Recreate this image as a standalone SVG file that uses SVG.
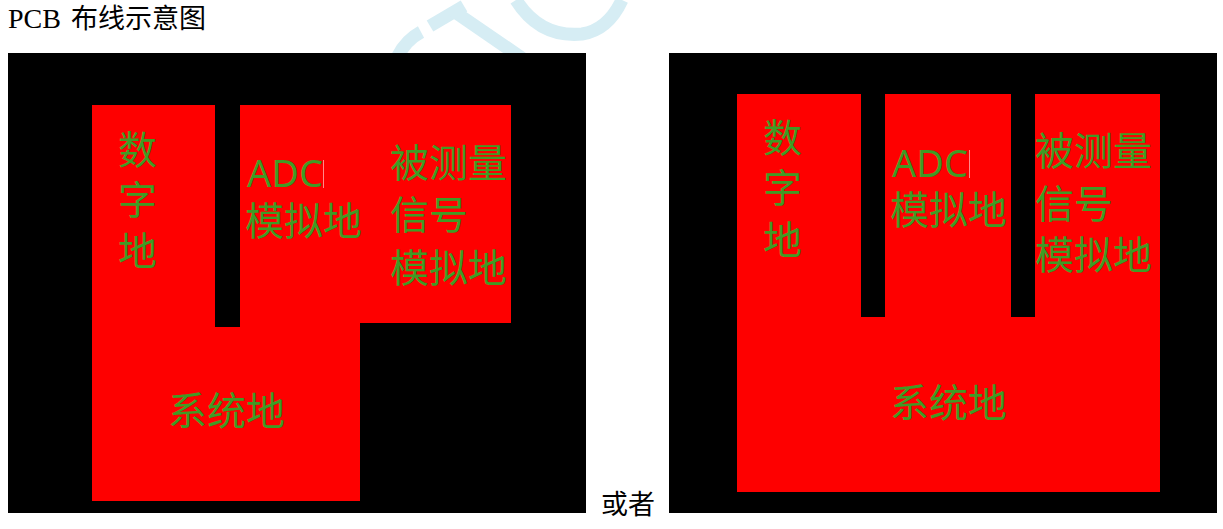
<svg xmlns="http://www.w3.org/2000/svg" width="1223" height="529" viewBox="0 0 1223 529">
  <style>
    .board { fill: #000000; }
    .plane { fill: #fe0000; }
    .lbl { font-family: "Noto Sans CJK SC", "Noto Sans", sans-serif; font-size: 39px; fill: #3f9b25; }
    .lat { font-family: "Noto Sans", "Open Sans", sans-serif; font-size: 38px; }
    .cap { font-family: "Liberation Serif", "Noto Sans CJK SC", serif; font-size: 27px; fill: #000000; }
    .wm { fill: none; stroke: #d6edf4; stroke-width: 13; stroke-linecap: butt; }
    .cursor { stroke: #ff8a8a; stroke-width: 1; }
  </style>

  <rect x="0" y="0" width="1223" height="529" fill="#ffffff"/>

  <!-- watermark fragments -->
  <g id="watermark">
    <path class="wm" d="M398 56 Q406 40 421 32"/>
    <path class="wm" d="M430 26 L464 6"/>
    <path class="wm" d="M452 10 L522 58"/>
    <path class="wm" d="M516 0 Q540 38 582 34 Q608 30 622 0"/>
  </g>

  <text class="cap" x="8" y="28"><tspan font-size="28">PCB</tspan><tspan x="71">布线示意图</tspan></text>

  <!-- left layout -->
  <g id="layout-a">
    <rect class="board" x="8" y="53" width="578" height="460"/>
    <path class="plane" d="M92 105 H215 V327 H240 V105 H511 V323 H360 V501 H92 Z"/>
    <g id="a-digital">
      <text class="lbl" x="118" y="164">数<tspan x="118" y="214">字</tspan><tspan x="118" y="265">地</tspan></text>
    </g>
    <g id="a-adc">
      <text class="lbl" x="247" y="187"><tspan class="lat">ADC</tspan><tspan x="245" y="235">模拟地</tspan></text>
      <line class="cursor" x1="323.5" y1="160" x2="323.5" y2="188"/>
    </g>
    <g id="a-signal">
      <text class="lbl" x="390" y="177">被测量<tspan x="390" y="229">信号</tspan><tspan x="390" y="282">模拟地</tspan></text>
    </g>
    <g id="a-system">
      <text class="lbl" x="168" y="425">系统地</text>
    </g>
  </g>

  <text class="cap" x="601" y="514">或者</text>

  <!-- right layout -->
  <g id="layout-b">
    <rect class="board" x="669" y="53" width="548" height="460"/>
    <path class="plane" d="M737 94 H861 V317 H885 V94 H1011 V317 H1035 V94 H1160 V492 H737 Z"/>
    <g id="b-digital">
      <text class="lbl" x="763" y="152">数<tspan x="763" y="202">字</tspan><tspan x="763" y="254">地</tspan></text>
    </g>
    <g id="b-adc">
      <text class="lbl" x="892" y="177"><tspan class="lat">ADC</tspan><tspan x="890" y="224">模拟地</tspan></text>
      <line class="cursor" x1="969.5" y1="150" x2="969.5" y2="178"/>
    </g>
    <g id="b-signal">
      <text class="lbl" x="1035" y="165">被测量<tspan x="1035" y="218">信号</tspan><tspan x="1035" y="269">模拟地</tspan></text>
    </g>
    <g id="b-system">
      <text class="lbl" x="890" y="417">系统地</text>
    </g>
  </g>

  <g id="connectors"/>
</svg>
